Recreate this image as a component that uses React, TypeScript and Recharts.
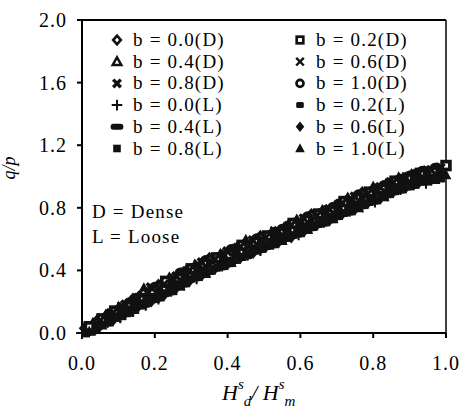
import React from "react";
import {
  ScatterChart,
  Scatter,
  XAxis,
  YAxis,
  Legend,
  ReferenceLine,
} from "recharts";

// tick labels
const xTicks = [0, 0.2, 0.4, 0.6, 0.8, 1.0];
const yTicks = [0, 0.4, 0.8, 1.2, 1.6, 2.0];

// dense sand (x = Hs_d/Hs_m, y = q/p)
const dense00 = [[0.01, 0.03], [0.045, 0.08], [0.07, 0.11], [0.105, 0.15], [0.14, 0.21], [0.175, 0.25], [0.21, 0.3], [0.245, 0.33], [0.28, 0.38], [0.315, 0.41], [0.35, 0.47], [0.385, 0.49], [0.42, 0.53], [0.455, 0.55], [0.49, 0.61], [0.525, 0.63], [0.56, 0.67], [0.595, 0.69], [0.63, 0.75], [0.665, 0.77], [0.7, 0.81], [0.735, 0.83], [0.77, 0.89], [0.805, 0.91], [0.84, 0.95], [0.875, 0.97], [0.91, 1.0], [0.945, 1.02], [0.98, 1.04]];
const dense02 = [[0.02, 0.04], [0.055, 0.09], [0.09, 0.14], [0.125, 0.17], [0.16, 0.22], [0.195, 0.27], [0.23, 0.33], [0.265, 0.35], [0.3, 0.41], [0.335, 0.44], [0.37, 0.48], [0.405, 0.5], [0.44, 0.56], [0.475, 0.58], [0.51, 0.62], [0.545, 0.64], [0.58, 0.7], [0.615, 0.72], [0.65, 0.76], [0.685, 0.78], [0.72, 0.84], [0.755, 0.86], [0.79, 0.9], [0.825, 0.92], [0.86, 0.97], [0.895, 0.99], [0.93, 1.02], [0.965, 1.03], [1.0, 1.07]];
const dense04 = [[0.03, 0.05], [0.065, 0.1], [0.1, 0.15], [0.135, 0.19], [0.17, 0.27], [0.205, 0.28], [0.24, 0.34], [0.275, 0.37], [0.31, 0.42], [0.345, 0.44], [0.38, 0.49], [0.415, 0.52], [0.45, 0.58], [0.485, 0.59], [0.52, 0.63], [0.555, 0.66], [0.59, 0.71], [0.625, 0.72], [0.66, 0.77], [0.695, 0.8], [0.73, 0.85], [0.765, 0.86], [0.8, 0.92], [0.835, 0.94], [0.87, 0.98], [0.905, 1.0], [0.94, 1.02], [0.975, 1.04]];
const dense06 = [[0.04, 0.06], [0.075, 0.11], [0.11, 0.17], [0.145, 0.21], [0.18, 0.25], [0.215, 0.29], [0.25, 0.35], [0.285, 0.38], [0.32, 0.44], [0.355, 0.46], [0.39, 0.5], [0.425, 0.53], [0.46, 0.57], [0.495, 0.6], [0.53, 0.65], [0.565, 0.67], [0.6, 0.72], [0.635, 0.74], [0.67, 0.78], [0.705, 0.81], [0.74, 0.86], [0.775, 0.88], [0.81, 0.92], [0.845, 0.95], [0.88, 0.99], [0.915, 1.01], [0.95, 1.03], [0.985, 1.05]];
const dense08 = [[0.05, 0.08], [0.085, 0.13], [0.12, 0.18], [0.155, 0.22], [0.19, 0.29], [0.225, 0.31], [0.26, 0.36], [0.295, 0.4], [0.33, 0.45], [0.365, 0.47], [0.4, 0.52], [0.435, 0.55], [0.47, 0.59], [0.505, 0.61], [0.54, 0.65], [0.575, 0.69], [0.61, 0.73], [0.645, 0.75], [0.68, 0.79], [0.715, 0.83], [0.75, 0.87], [0.785, 0.89], [0.82, 0.93], [0.855, 0.96], [0.89, 0.99], [0.925, 1.02], [0.96, 1.04]];
const dense10 = [[0.06, 0.09], [0.095, 0.14], [0.13, 0.19], [0.165, 0.24], [0.2, 0.29], [0.235, 0.32], [0.27, 0.38], [0.305, 0.41], [0.34, 0.46], [0.375, 0.48], [0.41, 0.53], [0.445, 0.56], [0.48, 0.6], [0.515, 0.62], [0.55, 0.66], [0.585, 0.7], [0.62, 0.74], [0.655, 0.76], [0.69, 0.8], [0.725, 0.84], [0.76, 0.88], [0.795, 0.9], [0.83, 0.94], [0.865, 0.97], [0.9, 1.0], [0.935, 1.03], [0.97, 1.05]];

// loose sand
const loose00 = [[0.0, 0.0], [0.035, 0.02], [0.07, 0.07], [0.105, 0.1], [0.14, 0.14], [0.175, 0.18], [0.21, 0.22], [0.245, 0.27], [0.28, 0.31], [0.315, 0.35], [0.35, 0.39], [0.385, 0.43], [0.42, 0.46], [0.455, 0.5], [0.49, 0.53], [0.525, 0.57], [0.56, 0.6], [0.595, 0.63], [0.63, 0.67], [0.665, 0.71], [0.7, 0.74], [0.735, 0.78], [0.77, 0.81], [0.805, 0.84], [0.84, 0.88], [0.875, 0.92], [0.91, 0.95], [0.945, 0.96], [0.98, 0.99]];
const loose02 = [[0.015, 0.0], [0.055, 0.05], [0.09, 0.09], [0.125, 0.12], [0.16, 0.17], [0.195, 0.21], [0.23, 0.25], [0.265, 0.29], [0.3, 0.34], [0.335, 0.38], [0.37, 0.41], [0.405, 0.44], [0.44, 0.48], [0.475, 0.52], [0.51, 0.55], [0.545, 0.59], [0.58, 0.62], [0.615, 0.66], [0.65, 0.69], [0.685, 0.72], [0.72, 0.76], [0.755, 0.8], [0.79, 0.83], [0.825, 0.87], [0.86, 0.9], [0.895, 0.93], [0.93, 0.96], [0.965, 0.98]];
const loose04 = [[0.025, 0.01], [0.065, 0.06], [0.1, 0.11], [0.135, 0.14], [0.17, 0.18], [0.205, 0.22], [0.24, 0.26], [0.275, 0.31], [0.31, 0.35], [0.345, 0.39], [0.38, 0.42], [0.415, 0.46], [0.45, 0.49], [0.485, 0.53], [0.52, 0.56], [0.555, 0.6], [0.59, 0.63], [0.625, 0.67], [0.66, 0.7], [0.695, 0.74], [0.73, 0.77], [0.765, 0.81], [0.8, 0.84], [0.835, 0.88], [0.87, 0.91], [0.905, 0.94], [0.94, 0.97], [0.975, 0.99]];
const loose06 = [[0.045, 0.03], [0.085, 0.08], [0.12, 0.13], [0.155, 0.17], [0.19, 0.2], [0.225, 0.24], [0.26, 0.29], [0.295, 0.33], [0.33, 0.37], [0.365, 0.41], [0.4, 0.44], [0.435, 0.48], [0.47, 0.51], [0.505, 0.55], [0.54, 0.58], [0.575, 0.61], [0.61, 0.65], [0.645, 0.69], [0.68, 0.72], [0.715, 0.76], [0.75, 0.79], [0.785, 0.83], [0.82, 0.86], [0.855, 0.9], [0.89, 0.93], [0.925, 0.96], [0.96, 0.98], [0.99, 1.0]];
const loose08 = [[0.01, 0.0], [0.04, 0.04], [0.075, 0.07], [0.11, 0.11], [0.145, 0.15], [0.18, 0.2], [0.215, 0.23], [0.25, 0.27], [0.285, 0.32], [0.32, 0.36], [0.355, 0.4], [0.39, 0.43], [0.425, 0.47], [0.46, 0.51], [0.495, 0.54], [0.53, 0.57], [0.565, 0.61], [0.6, 0.64], [0.635, 0.68], [0.67, 0.71], [0.705, 0.75], [0.74, 0.78], [0.775, 0.82], [0.81, 0.85], [0.845, 0.89], [0.88, 0.92], [0.915, 0.95], [0.95, 0.97], [0.985, 0.99]];
const loose10 = [[0.02, 0.01], [0.055, 0.05], [0.095, 0.1], [0.13, 0.14], [0.165, 0.18], [0.2, 0.22], [0.235, 0.27], [0.27, 0.3], [0.305, 0.36], [0.34, 0.38], [0.375, 0.43], [0.41, 0.45], [0.445, 0.5], [0.48, 0.53], [0.515, 0.57], [0.55, 0.59], [0.585, 0.64], [0.62, 0.66], [0.655, 0.71], [0.69, 0.73], [0.725, 0.78], [0.76, 0.8], [0.795, 0.85], [0.83, 0.87], [0.865, 0.92], [0.9, 0.94], [0.935, 0.97], [0.97, 0.98], [1.0, 1.01]];

const INK = "#111";
const FONT = "'Liberation Serif', 'Times New Roman', serif";

type Kind =
  | "diamondOpen" | "squareOpen" | "triangleOpen" | "cross" | "crossBold" | "circleOpen"
  | "plus" | "dashSmall" | "dashWide" | "diamond" | "square" | "triangle";

// legend order, row by row (left column, right column)
const series: { name: string; kind: Kind; pts: number[][] }[] = [
  { name: "b = 0.0(D)", kind: "diamondOpen", pts: dense00 },
  { name: "b = 0.2(D)", kind: "squareOpen", pts: dense02 },
  { name: "b = 0.4(D)", kind: "triangleOpen", pts: dense04 },
  { name: "b = 0.6(D)", kind: "cross", pts: dense06 },
  { name: "b = 0.8(D)", kind: "crossBold", pts: dense08 },
  { name: "b = 1.0(D)", kind: "circleOpen", pts: dense10 },
  { name: "b = 0.0(L)", kind: "plus", pts: loose00 },
  { name: "b = 0.2(L)", kind: "dashSmall", pts: loose02 },
  { name: "b = 0.4(L)", kind: "dashWide", pts: loose04 },
  { name: "b = 0.6(L)", kind: "diamond", pts: loose06 },
  { name: "b = 0.8(L)", kind: "square", pts: loose08 },
  { name: "b = 1.0(L)", kind: "triangle", pts: loose10 },
];

// open symbols go underneath, so the band reads mostly solid
const drawOrder = [5, 0, 2, 1, 3, 4, 6, 7, 8, 9, 10, 11];

function Mark({ kind, x, y, k = 1, sw = 2.7 }: { kind: Kind; x: number; y: number; k?: number; sw?: number }) {
  const a = 4 * k;
  switch (kind) {
    case "diamondOpen":
      return <polygon points={`${x},${y - a - 0.5} ${x + a},${y} ${x},${y + a + 0.5} ${x - a},${y}`} fill="#fff" stroke={INK} strokeWidth={sw} />;
    case "squareOpen":
      return <rect x={x - a + 0.5} y={y - a + 0.5} width={2 * a - 1} height={2 * a - 1} fill="#fff" stroke={INK} strokeWidth={sw} />;
    case "triangleOpen":
      return <polygon points={`${x},${y - a - 0.5} ${x + a + 0.5},${y + a - 0.5} ${x - a - 0.5},${y + a - 0.5}`} fill="#fff" stroke={INK} strokeWidth={sw - 0.2} />;
    case "cross":
      return <path d={`M${x - a},${y - a}L${x + a},${y + a}M${x + a},${y - a}L${x - a},${y + a}`} stroke={INK} strokeWidth={2.4} />;
    case "crossBold":
      return <path d={`M${x - a},${y - a}L${x + a},${y + a}M${x + a},${y - a}L${x - a},${y + a}`} stroke={INK} strokeWidth={3.4} />;
    case "circleOpen":
      return <circle cx={x} cy={y} r={a - 0.3} fill="#fff" stroke={INK} strokeWidth={sw} />;
    case "plus":
      return <path d={`M${x - a - 1.5},${y}L${x + a + 1.5},${y}M${x},${y - a - 1.5}L${x},${y + a + 1.5}`} stroke={INK} strokeWidth={2} />;
    case "dashSmall":
      return <rect x={x - a} y={y - 3} width={2 * a} height={6} rx={1.5} fill={INK} />;
    case "dashWide":
      return <rect x={x - a - 2.5} y={y - 3} width={2 * a + 5} height={6} rx={2.5} fill={INK} />;
    case "diamond":
      return <polygon points={`${x},${y - a - 1.5} ${x + a + 0.5},${y} ${x},${y + a + 1.5} ${x - a - 0.5},${y}`} fill={INK} />;
    case "square":
      return <rect x={x - a} y={y - a} width={2 * a} height={2 * a} fill={INK} />;
    default:
      return <polygon points={`${x},${y - a - 1.5} ${x + a + 1},${y + a} ${x - a - 1},${y + a}`} fill={INK} />;
  }
}

function LegendBox() {
  return (
    <svg width={340} height={140} style={{ display: "block" }}>
      {series.map((s, i) => {
        const col = i % 2;
        const row = Math.floor(i / 2);
        const base = 18 + row * 21.7;
        const sx = col === 0 ? 17 : 200;
        return (
          <g key={s.name}>
            <Mark kind={s.kind} x={sx} y={base - 6} k={0.95} />
            <text x={sx + 16} y={base} fontFamily={FONT} fontSize={19} letterSpacing={1.2} fill="#000">
              {s.name}
            </text>
          </g>
        );
      })}
    </svg>
  );
}

const XTick = ({ x, y, payload }: any) => (
  <text x={x} y={y} dy="0.71em" textAnchor="middle" fontFamily={FONT} fontSize={20} letterSpacing={1} fill="#000">
    {Number(payload.value).toFixed(1)}
  </text>
);

const YTick = ({ x, y, payload }: any) => (
  <text x={x} y={y} dy="0.35em" textAnchor="end" fontFamily={FONT} fontSize={20} letterSpacing={1} fill="#000">
    {Number(payload.value).toFixed(1)}
  </text>
);

export default function App() {
  return (
    <div style={{ position: "absolute", left: 0, top: 0, width: 459, height: 408, background: "#fff" }}>
      <ScatterChart width={459} height={408} margin={{ top: 20, right: 13, bottom: 0, left: 0 }}>
        <XAxis
          type="number"
          dataKey="x"
          domain={[0, 1]}
          ticks={xTicks}
          height={75}
          stroke="#000"
          strokeWidth={2}
          tickSize={5}
          tickMargin={18}
          tick={<XTick />}
          interval={0}
        />
        <YAxis
          type="number"
          dataKey="y"
          domain={[0, 2]}
          ticks={yTicks}
          width={82}
          stroke="#000"
          strokeWidth={2}
          tickSize={5}
          tickMargin={10}
          tick={<YTick />}
          interval={0}
        />
        <ReferenceLine y={2} stroke="#000" strokeWidth={2} />
        <ReferenceLine x={1} stroke="#000" strokeWidth={1.5} />
        <Legend
          layout="horizontal"
          verticalAlign="middle"
          content={() => <LegendBox />}
          wrapperStyle={{ left: 100, top: 28, width: 340, height: 140 }}
        />
        {drawOrder.map((i) => {
          const s = series[i];
          return (
            <Scatter
              key={s.name}
              name={s.name}
              data={s.pts.map(([x, y]) => ({ x, y }))}
              isAnimationActive={false}
              shape={(p: any) => <Mark kind={s.kind} x={p.cx} y={p.cy} k={1.1} sw={3.7} />}
            />
          );
        })}
      </ScatterChart>
      <svg width={459} height={408} style={{ position: "absolute", left: 0, top: 0, pointerEvents: "none" }}>
        <text x={92} y={218} fontFamily={FONT} fontSize={19} letterSpacing={1.2} fill="#000">D = Dense</text>
        <text x={92} y={243} fontFamily={FONT} fontSize={19} letterSpacing={1.2} fill="#000">L = Loose</text>
        <text x={15} y={168} transform="rotate(-90 15 168)" textAnchor="middle" fontFamily={FONT} fontStyle="italic" fontSize={18} fill="#000">
          q/p
        </text>
        <text x={222} y={400} fontFamily={FONT} fontStyle="italic" fontSize={22} fill="#000">
          H<tspan fontSize={15} dy={-11}>s</tspan>
          <tspan fontSize={15} dy={17}>d</tspan>
          <tspan dy={-6}>/ H</tspan>
          <tspan fontSize={15} dy={-11}>s</tspan>
          <tspan fontSize={15} dy={17}>m</tspan>
        </text>
      </svg>
    </div>
  );
}
